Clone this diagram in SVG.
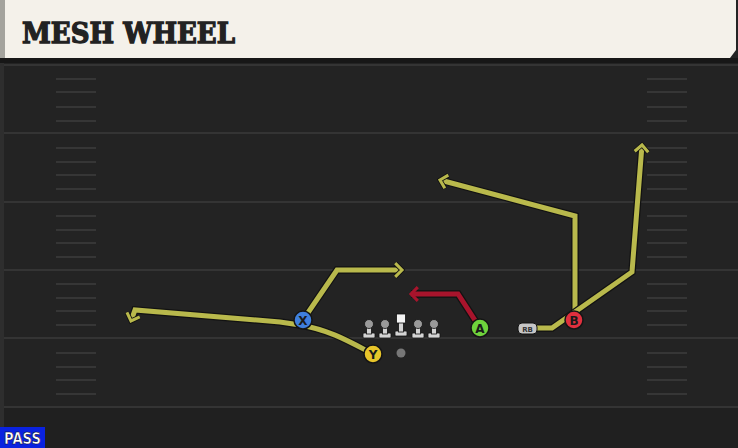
<svg xmlns="http://www.w3.org/2000/svg" width="738" height="448" viewBox="0 0 738 448">
<style>
.yard{stroke:#343434;stroke-width:2}
.hash{stroke:#363636;stroke-width:2}
.under{fill:none;stroke:#121212;stroke-width:7.5;stroke-linejoin:miter;stroke-linecap:butt}
.yl{fill:none;stroke:#b9b94c;stroke-width:5;stroke-linejoin:miter}
.rd{fill:none;stroke:#a8142c;stroke-width:5;stroke-linejoin:miter}
.pc{stroke:#151515;stroke-width:1.5}
.pl{font-family:"DejaVu Sans",sans-serif;font-size:12px;font-weight:bold;fill:#1a1a1a;text-anchor:middle}
.ol{fill:#d4d4d4;stroke:#111;stroke-width:0.8}
</style>
<defs>
<marker id="ay" viewBox="0 0 10 10" refX="5.5" refY="5" markerWidth="3.4" markerHeight="3.4" orient="auto" markerUnits="strokeWidth">
<polyline points="1.5,1 5.5,5 1.5,9" fill="none" stroke="#121212" stroke-width="2.8"/>
<polyline points="1.5,1 5.5,5 1.5,9" fill="none" stroke="#b9b94c" stroke-width="1.8"/>
</marker>
<marker id="ar" viewBox="0 0 10 10" refX="5.5" refY="5" markerWidth="3.4" markerHeight="3.4" orient="auto" markerUnits="strokeWidth">
<polyline points="1.5,1 5.5,5 1.5,9" fill="none" stroke="#a8142c" stroke-width="1.8"/>
</marker>
<g id="lineman">
<rect x="-6" y="9" width="12" height="5" rx="1" class="ol"/>
<rect x="-2.5" y="2" width="5" height="8" class="ol"/>
<circle cx="0" cy="0" r="4.5" fill="#9a9a9a" stroke="#111" stroke-width="0.8"/>
</g>
</defs>
<rect width="738" height="448" fill="#232323"/>
<rect x="0" y="407" width="738" height="41" fill="#202020"/>
<g id="field">
<line class="yard" x1="0" y1="65" x2="738" y2="65"/>
<line class="yard" x1="0" y1="133" x2="738" y2="133"/>
<line class="yard" x1="0" y1="202" x2="738" y2="202"/>
<line class="yard" x1="0" y1="270" x2="738" y2="270"/>
<line class="yard" x1="0" y1="338" x2="738" y2="338"/>
<line class="yard" x1="0" y1="407" x2="738" y2="407"/>
<g id="hashL">
<path class="hash" d="M56 79H96M56 92H96M56 107H96M56 121H96M56 148H96M56 162H96M56 175H96M56 189H96M56 216H96M56 230H96M56 243H96M56 257H96M56 284H96M56 298H96M56 311H96M56 325H96M56 353H96M56 367H96M56 380H96M56 394H96"/>
</g>
<g id="hashR">
<path class="hash" d="M647 79H687M647 92H687M647 107H687M647 121H687M647 148H687M647 162H687M647 175H687M647 189H687M647 216H687M647 230H687M647 243H687M647 257H687M647 284H687M647 298H687M647 311H687M647 325H687M647 353H687M647 367H687M647 380H687M647 394H687"/>
</g>
<rect x="0" y="60" width="4" height="388" fill="#2e2e2e"/>
</g>
<g id="header">
<rect x="0" y="58" width="738" height="5" fill="#171717"/>
<path d="M4 0H736V50L730 58H4Z" fill="#f4f1ea"/>
<rect x="0" y="0" width="5" height="58" fill="#a4a39d"/>
<text x="22" y="43" font-family="'DejaVu Serif',serif" font-weight="bold" font-size="28" fill="#222" stroke="#222" stroke-width="1.3" textLength="213" lengthAdjust="spacingAndGlyphs">MESH WHEEL</text>
</g>
<g id="connectors">
<path class="under" d="M303 320L337 270H402"/>
<path class="yl" d="M303 320L337 270H402" marker-end="url(#ay)"/>
<path class="under" d="M373 354C350 342 330 330 300 325L280 322L135 310L131 321"/>
<path class="yl" d="M373 354C350 342 330 330 300 325L280 322L135 310L131 321" marker-end="url(#ay)"/>
<path class="under" d="M575 320V216L440 180"/>
<path class="yl" d="M575 320V216L440 180" marker-end="url(#ay)"/>
<path class="under" d="M532 328H552L632 272L642 145"/>
<path class="yl" d="M532 328H552L632 272L642 145" marker-end="url(#ay)"/>
<path class="under" d="M480 328L458 294H411"/>
<path class="rd" d="M480 328L458 294H411" marker-end="url(#ar)"/>
</g>
<g id="line">
<use href="#lineman" x="369" y="324"/>
<use href="#lineman" x="385" y="324"/>
<use href="#lineman" x="418" y="324"/>
<use href="#lineman" x="434" y="324"/>
</g>
<g id="center">
<rect x="395" y="331" width="12" height="5" rx="1" class="ol"/>
<rect x="398.5" y="322" width="5" height="10" class="ol"/>
<rect x="396.5" y="314" width="9" height="9" fill="#f4f4f4" stroke="#111" stroke-width="0.8"/>
</g>
<g id="ball"><circle cx="401" cy="353" r="4.5" fill="#777"/></g>
<g id="X"><circle class="pc" cx="303" cy="320" r="9" fill="#3f7fdc"/><text class="pl" x="303" y="324.5">X</text></g>
<g id="Y"><circle class="pc" cx="373" cy="354" r="9" fill="#e8c52a"/><text class="pl" x="373" y="358.5">Y</text></g>
<g id="A"><circle class="pc" cx="480" cy="328" r="9" fill="#6fd23c"/><text class="pl" x="480" y="332.5">A</text></g>
<g id="B"><circle class="pc" cx="574" cy="320" r="9" fill="#e0303e"/><text class="pl" x="574" y="324.5">B</text></g>
<g id="RB"><rect x="518" y="323" width="19" height="11" rx="4" fill="#c6c6c6" stroke="#111" stroke-width="1"/><text x="527.5" y="331.5" font-family="'DejaVu Sans',sans-serif" font-size="7" font-weight="bold" fill="#333" text-anchor="middle">RB</text></g>
<g id="pass">
<rect x="0" y="427" width="45" height="21" fill="#0a22e0"/>
<text x="4" y="444" font-family="'DejaVu Sans',sans-serif" font-size="15" font-weight="bold" fill="#fff" stroke="#001" stroke-width="0.5" textLength="37" lengthAdjust="spacingAndGlyphs">PASS</text>
</g>
</svg>
